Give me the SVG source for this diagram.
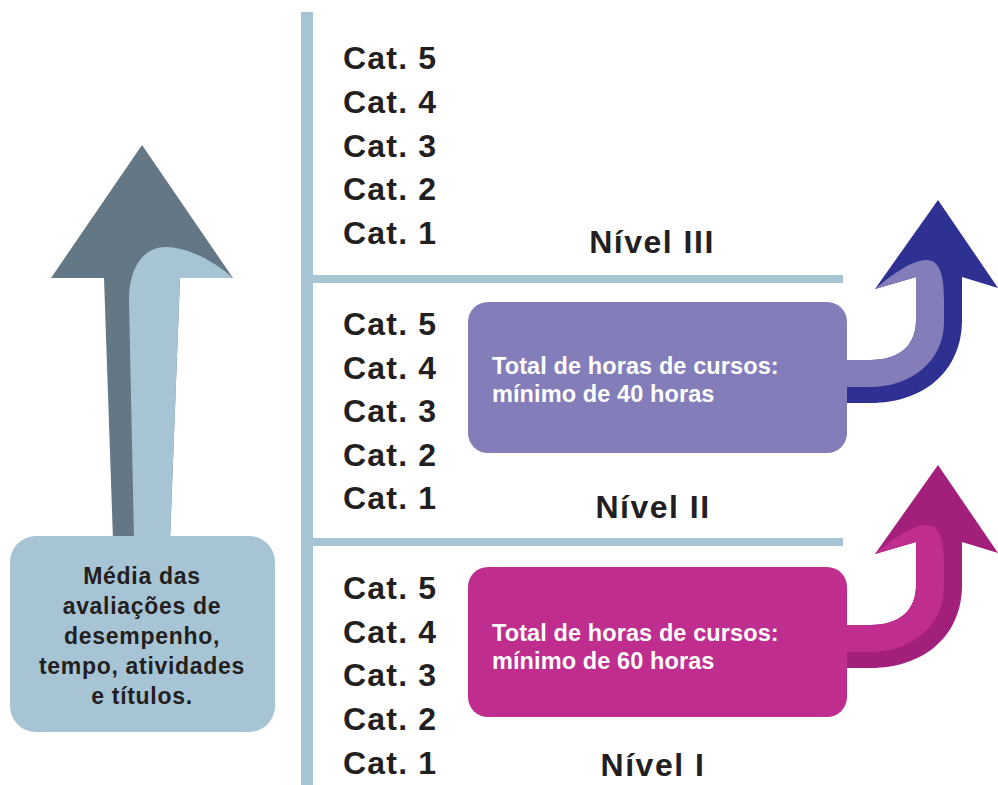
<svg xmlns="http://www.w3.org/2000/svg" width="998" height="785" viewBox="0 0 998 785">
<style>
.cat{font-family:"Liberation Sans",Arial,sans-serif;font-weight:bold;font-size:32px;fill:#231F20;letter-spacing:1.2px}
.lvl{font-family:"Liberation Sans",Arial,sans-serif;font-weight:bold;font-size:32px;fill:#231F20;letter-spacing:1.5px;text-anchor:middle}
.box{font-family:"Liberation Sans",Arial,sans-serif;font-weight:bold;font-size:23.5px;fill:#FFFFFF;letter-spacing:0.1px}
.lbox{font-family:"Liberation Sans",Arial,sans-serif;font-weight:bold;font-size:23px;fill:#231F20;text-anchor:middle;letter-spacing:0.7px}
.bar{fill:#A7C4D4}
</style>
<defs>
<path id="arrDark" d="M847,403 L870,403 C925,403 962,370 962,320 L962,277 L998,288 L938,200 L875,289 L916,277 L916,320 C916,345 900,360 870,360 L847,360 Z"/>
<path id="arrLight" d="M847,360 L870,360 C900,360 916,345 916,320 L916,277 L875,289 C895,272 910,262 925,260 C940,259 944,275 944,300 L944,322 C944,362 910,387 870,387 L847,387 Z"/>
</defs>

<g id="axes">
<rect class="bar" x="301" y="12" width="12" height="773"/>
<rect class="bar" x="313" y="275" width="530" height="8"/>
<rect class="bar" x="313" y="538" width="530" height="8"/>
</g>

<g id="connectors">
<g id="big-arrow">
<path fill="#637884" d="M142,145 L233,278 L180,278 L170,540 L113,540 L104,278 L51,278 Z"/>
<path fill="#A7C4D4" d="M129,300 C129,262 148,246 167,247 C190,248 215,262 233,278 L180,278 L170,540 L134,540 Z"/>
</g>
<g id="arrow-nivel2">
<use href="#arrDark" fill="#2E3192"/>
<use href="#arrLight" fill="#837DBA"/>
</g>
<g id="arrow-nivel1" transform="translate(0,265)">
<use href="#arrDark" fill="#A21F7B"/>
<use href="#arrLight" fill="#BF2D8F"/>
</g>
</g>

<g id="node-media">
<rect x="10" y="536" width="265" height="196" rx="26" fill="#A7C4D4"/>
<text class="lbox" x="142" y="584">Média das</text>
<text class="lbox" x="142" y="614">avaliações de</text>
<text class="lbox" x="142" y="644">desempenho,</text>
<text class="lbox" x="142" y="674">tempo, atividades</text>
<text class="lbox" x="142" y="704">e títulos.</text>
</g>

<g id="node-nivel3">
<text class="cat" x="343" y="69">Cat. 5</text>
<text class="cat" x="343" y="113">Cat. 4</text>
<text class="cat" x="343" y="157">Cat. 3</text>
<text class="cat" x="343" y="200">Cat. 2</text>
<text class="cat" x="343" y="244">Cat. 1</text>
<text class="lvl" x="652" y="253">Nível III</text>
</g>

<g id="node-nivel2">
<text class="cat" x="343" y="335">Cat. 5</text>
<text class="cat" x="343" y="379">Cat. 4</text>
<text class="cat" x="343" y="422">Cat. 3</text>
<text class="cat" x="343" y="466">Cat. 2</text>
<text class="cat" x="343" y="509">Cat. 1</text>
<text class="lvl" x="653" y="518">Nível II</text>
</g>

<g id="node-nivel1">
<text class="cat" x="343" y="599">Cat. 5</text>
<text class="cat" x="343" y="643">Cat. 4</text>
<text class="cat" x="343" y="686">Cat. 3</text>
<text class="cat" x="343" y="730">Cat. 2</text>
<text class="cat" x="343" y="774">Cat. 1</text>
<text class="lvl" x="653" y="776">Nível I</text>
</g>

<g id="node-40h">
<rect x="468" y="302" width="379" height="151" rx="20" fill="#837DBA"/>
<text class="box" x="492" y="374">Total de horas de cursos:</text>
<text class="box" x="492" y="402">mínimo de 40 horas</text>
</g>

<g id="node-60h">
<rect x="468" y="567" width="379" height="150" rx="20" fill="#BF2D8F"/>
<text class="box" x="492" y="641">Total de horas de cursos:</text>
<text class="box" x="492" y="669">mínimo de 60 horas</text>
</g>
</svg>
